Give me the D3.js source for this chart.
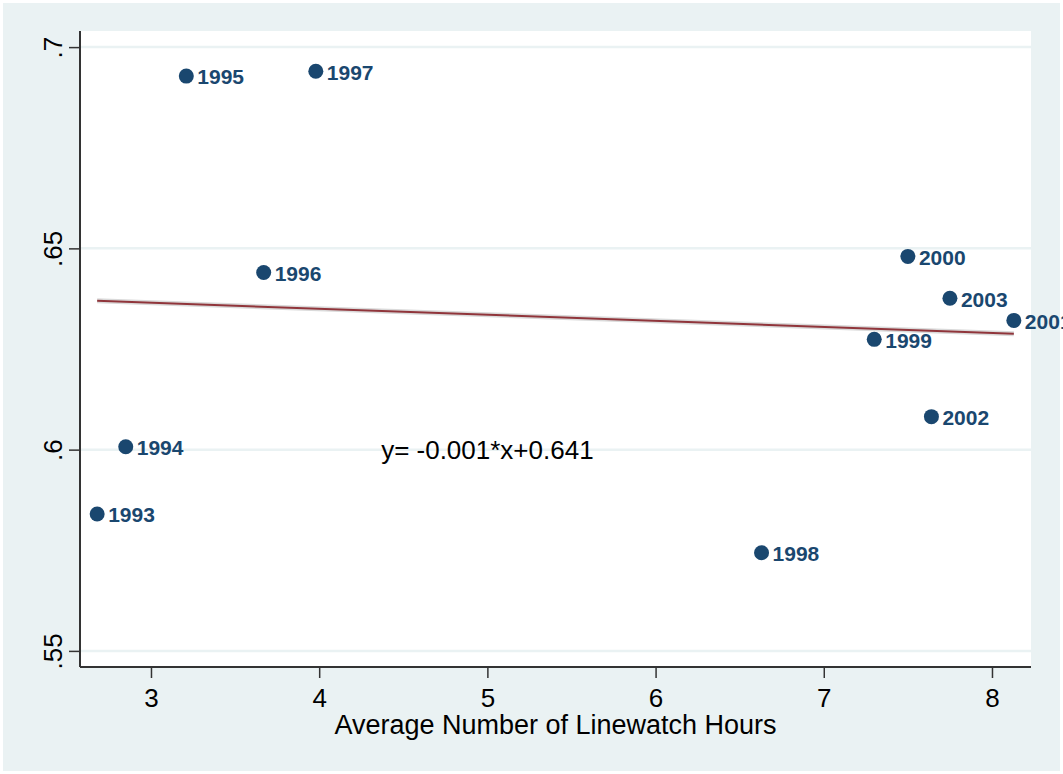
<!DOCTYPE html>
<html>
<head>
<meta charset="utf-8">
<script src="https://cdnjs.cloudflare.com/ajax/libs/d3/7.8.5/d3.min.js"></script>
<style>
  body { margin: 0; background: #fff; }
  svg { display: block; font-family: "Liberation Sans", Arial, sans-serif; }
</style>
</head>
<body>
<svg id="chart" width="1063" height="774"></svg>
<script>
//
// Data
//
var years = [1993, 1994, 1995, 1996, 1997, 1998, 1999, 2000, 2001, 2002, 2003];
var hours = [2.68, 2.85, 3.21, 3.67, 3.98, 6.63, 7.30, 7.50, 8.13, 7.64, 7.75];
var share = [0.584, 0.6007, 0.6928, 0.644, 0.694, 0.5744, 0.6274, 0.648, 0.6321, 0.6082, 0.6376];

var fit_slope = -0.0015, fit_intercept = 0.641;
var fit_label = "y= -0.001*x+0.641";

var x_ticks = [3, 4, 5, 6, 7, 8];
var y_ticks = [0.55, 0.6, 0.65, 0.7];
var y_tick_labels = [".55", ".6", ".65", ".7"];
var x_title = "Average Number of Linewatch Hours";

var navy = "#1a476f", maroon = "#90353b", bg = "#eaf2f3";

//
// Layout
//
var W = 1063, H = 774;
var pl = 80, pr = 1031, pt = 31, pb = 667;

var svg = d3.select("#chart");

svg.append("rect").attr("x", 0).attr("y", 0).attr("width", W).attr("height", H).attr("fill", "#fff");
svg.append("rect").attr("x", 3).attr("y", 3).attr("width", W - 6).attr("height", H - 6).attr("fill", bg);
svg.append("rect").attr("x", pl).attr("y", pt).attr("width", pr - pl).attr("height", pb - pt).attr("fill", "#fff");

var x = d3.scaleLinear().domain([2.578, 8.232]).range([pl, pr]);
var y = d3.scaleLinear().domain([0.546, 0.704]).range([pb, pt]);

// gridlines
svg.append("g").selectAll("line")
    .data(y_ticks)
    .enter().append("line")
    .attr("x1", pl).attr("x2", pr)
    .attr("y1", function (d) { return y(d); })
    .attr("y2", function (d) { return y(d); })
    .attr("stroke", bg).attr("stroke-width", 2.5);

// y axis
var yAxis = svg.append("g")
    .attr("transform", "translate(" + pl + ",0)")
    .call(d3.axisLeft(y).tickValues(y_ticks).tickSize(11)
        .tickFormat(function (d, i) { return y_tick_labels[i]; }));
yAxis.select(".domain").attr("stroke", "#333").attr("stroke-width", 2).attr("d", "M0," + pt + "V" + pb);
yAxis.selectAll(".tick line").attr("stroke", "#333").attr("stroke-width", 1.5);
yAxis.selectAll(".tick text")
    .attr("font-size", 26).attr("fill", "#000")
    .attr("x", null).attr("dy", null)
    .attr("text-anchor", "middle")
    .attr("transform", "translate(-27,0) rotate(-90)")
    .attr("dy", "0.35em");

// x axis
var xAxis = svg.append("g")
    .attr("transform", "translate(0," + pb + ")")
    .call(d3.axisBottom(x).tickValues(x_ticks).tickSize(11).tickFormat(d3.format("d")));
xAxis.select(".domain").attr("stroke", "#333").attr("stroke-width", 2).attr("d", "M" + pl + ",0H" + pr);
xAxis.selectAll(".tick line").attr("stroke", "#333").attr("stroke-width", 1.5);
xAxis.selectAll(".tick text")
    .attr("font-size", 26).attr("fill", "#000")
    .attr("y", 40).attr("dy", null);

svg.append("text")
    .attr("x", (pl + pr) / 2).attr("y", 734)
    .attr("text-anchor", "middle")
    .attr("font-size", 27)
    .text(x_title);

// fit line
var xmin = d3.min(hours), xmax = d3.max(hours);
var fit = [[xmin, fit_intercept + fit_slope * xmin], [xmax, fit_intercept + fit_slope * xmax]];
var line = d3.line().x(function (d) { return x(d[0]); }).y(function (d) { return y(d[1]); });
svg.append("path").attr("d", line(fit)).attr("stroke", "#dadada").attr("stroke-width", 5).attr("fill", "none");
svg.append("path").attr("d", line(fit)).attr("stroke", maroon).attr("stroke-width", 2).attr("fill", "none");

// points
var pts = svg.append("g").selectAll("g")
    .data(years)
    .enter().append("g")
    .attr("transform", function (d, i) { return "translate(" + x(hours[i]) + "," + y(share[i]) + ")"; });
pts.append("circle").attr("r", 7.5).attr("fill", navy);
pts.append("text")
    .attr("x", 11).attr("y", 1).attr("dy", "0.35em")
    .attr("font-size", 21).attr("font-weight", "bold")
    .attr("fill", navy)
    .text(function (d) { return d; });

// equation
svg.append("text")
    .attr("x", x(5)).attr("y", y(0.6)).attr("dy", "0.35em")
    .attr("text-anchor", "middle")
    .attr("font-size", 26)
    .text(fit_label);
</script>
</body>
</html>
